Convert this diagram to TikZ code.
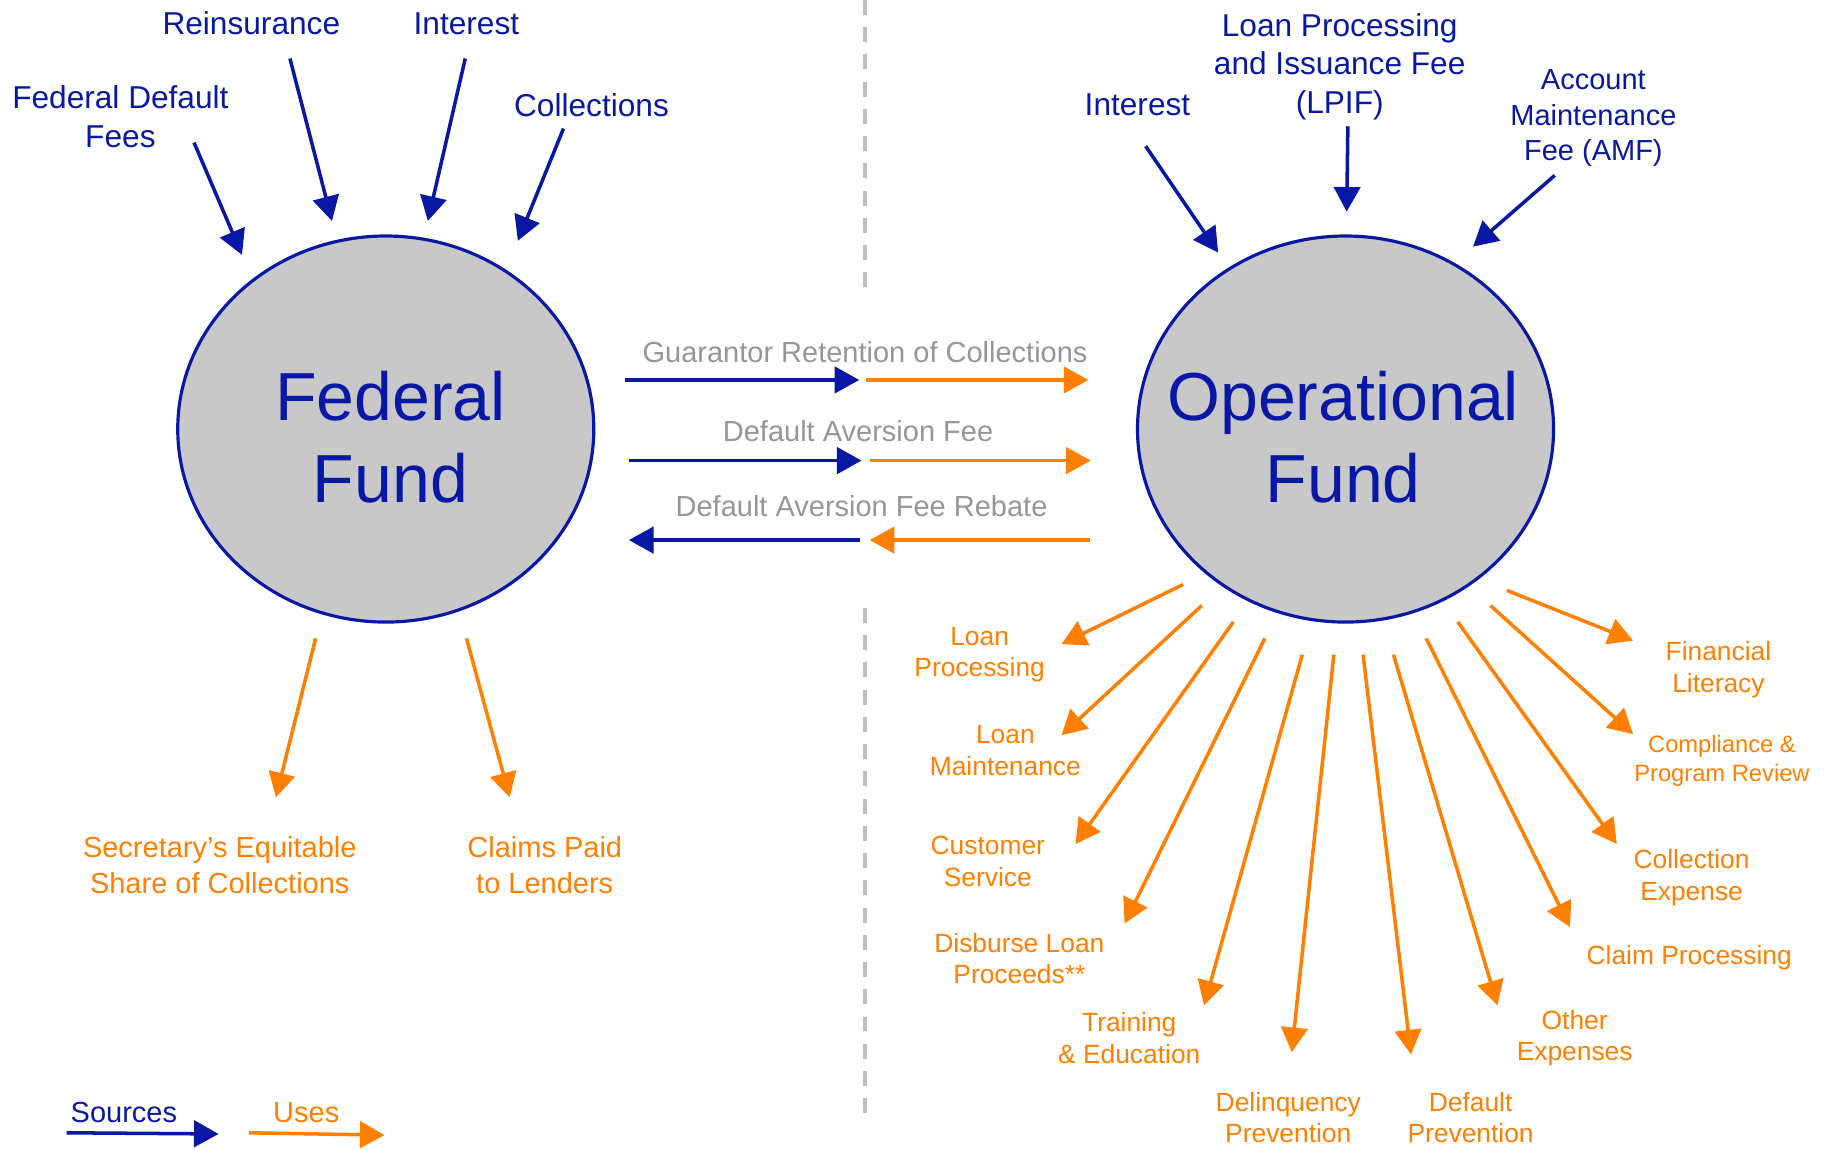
\documentclass[tikz,border=0pt]{standalone}
\usepackage{fontspec}
\setmainfont{Liberation Sans}
\usepackage{xcolor}
\usepackage{tikz}
\usetikzlibrary{shapes.geometric,arrows.meta}

\definecolor{srcblue}{RGB}{8,24,164}
\definecolor{useorange}{RGB}{255,128,0}
\definecolor{flowgray}{RGB}{150,150,150}
\definecolor{fundgray}{RGB}{200,200,200}
\definecolor{linegray}{RGB}{190,190,190}

\tikzset{
    src/.style={draw=srcblue, line width=2pt, -{Triangle[length=14pt,width=15pt]}},
    use/.style={draw=useorange, line width=2pt, -{Triangle[length=14pt,width=15pt]}},
    fund/.style={ellipse, draw=srcblue, line width=1.8pt, fill=fundgray, inner sep=0pt,
        minimum width=8.32cm, minimum height=7.72cm},
    fundlbl/.style={anchor=base, align=center, inner sep=0pt, text=srcblue,
        font=\fontsize{38.7}{46.5}\selectfont},
    srclbl/.style={text=srcblue, align=center, inner sep=0pt, font=\fontsize{18}{22}\selectfont},
    uselbl/.style={text=useorange, align=center, inner sep=0pt, font=\fontsize{15}{18}\selectfont},
    flowlbl/.style={text=flowgray, inner sep=0pt, font=\fontsize{16.5}{20}\selectfont},
    divider/.style={draw=linegray, line width=1.9pt, dash pattern=on 8.5pt off 7pt},
}

\begin{document}
\begin{tikzpicture}[x=0.02338cm, y=-0.02338cm]
    \useasboundingbox (0,0) rectangle (1568,983);

    % divider
    \draw[divider] (740,0) -- (740,253);
    \draw[divider] (740,520) -- (740,962);

    % the two funds
    \node[fund] (fed) at (330,367) {};
    \node[fund] (ops) at (1151,367) {};
    \node[fundlbl] (fedtxt) at (334,430) {Federal\\Fund};
    \node[fundlbl] (opstxt) at (1149,430) {Operational\\Fund};

    % sources of the federal fund
    \node[srclbl] (fdf) at (103,100) {Federal Default\\Fees};
    \node[srclbl] (rei) at (215,20) {Reinsurance};
    \node[srclbl] (fint) at (399,20) {Interest};
    \node[srclbl] (fcol) at (506,90) {Collections};
    \coordinate (fdf1) at (166,122); \coordinate (fdf2) at (207,218);
    \coordinate (rei1) at (248,50);  \coordinate (rei2) at (284,189);
    \coordinate (fint1) at (398,50); \coordinate (fint2) at (366,189);
    \coordinate (fcol1) at (482,110); \coordinate (fcol2) at (443,206);
    \draw[src] (fdf1) -- (fdf2);
    \draw[src] (rei1) -- (rei2);
    \draw[src] (fint1) -- (fint2);
    \draw[src] (fcol1) -- (fcol2);

    % sources of the operational fund
    \node[srclbl] (oint) at (973,90) {Interest};
    \node[srclbl] (lpif) at (1146,57) {Loan Processing\\and Issuance Fee\\(LPIF)};
    \node[srclbl, font=\fontsize{16.5}{20}\selectfont] (amf) at (1363,101) {Account\\Maintenance\\Fee (AMF)};
    \coordinate (oint1) at (980,125); \coordinate (oint2) at (1042,216);
    \coordinate (lpif1) at (1153,108); \coordinate (lpif2) at (1152,181);
    \coordinate (amf1) at (1330,150); \coordinate (amf2) at (1260,211);
    \draw[src] (oint1) -- (oint2);
    \draw[src] (lpif1) -- (lpif2);
    \draw[src] (amf1) -- (amf2);

    % flows between the funds
    \node[flowlbl] (grc) at (740,301) {Guarantor Retention of Collections};
    \node[flowlbl] (daf) at (734,369) {Default Aversion Fee};
    \node[flowlbl] (dafr) at (737,433) {Default Aversion Fee Rebate};
    \coordinate (grc1) at (535,325); \coordinate (grc2) at (735,325);
    \coordinate (grc3) at (741,325); \coordinate (grc4) at (931,325);
    \coordinate (daf1) at (538,394); \coordinate (daf2) at (737,394);
    \coordinate (daf3) at (744,394); \coordinate (daf4) at (933,394);
    \coordinate (dafr1) at (538,462); \coordinate (dafr2) at (736,462);
    \coordinate (dafr3) at (744,462); \coordinate (dafr4) at (932,462);
    \draw[src] (grc1) -- (grc2);
    \draw[use] (grc3) -- (grc4);
    \draw[src] (daf1) -- (daf2);
    \draw[use] (daf3) -- (daf4);
    \draw[src] (dafr2) -- (dafr1);
    \draw[use] (dafr4) -- (dafr3);

    % uses of the federal fund
    \node[uselbl, font=\fontsize{16.5}{20}\selectfont] (sec) at (188,740) {Secretary’s Equitable\\Share of Collections};
    \node[uselbl, font=\fontsize{16.5}{20}\selectfont] (clm) at (466,740) {Claims Paid\\to Lenders};
    \coordinate (sec1) at (270,546); \coordinate (sec2) at (236,682);
    \coordinate (clm1) at (399,546); \coordinate (clm2) at (436,682);
    \draw[use] (sec1) -- (sec2);
    \draw[use] (clm1) -- (clm2);

    % uses of the operational fund
    \node[uselbl] (lpr) at (838,560) {Loan\\Processing};
    \node[uselbl] (lmt) at (860,642) {Loan\\Maintenance};
    \node[uselbl] (csv) at (845,737) {Customer\\Service};
    \node[uselbl] (dlp) at (872,820) {Disburse Loan\\Proceeds**};
    \node[uselbl] (trn) at (966,888) {Training\\\& Education};
    \node[uselbl] (dlq) at (1102,956) {Delinquency\\Prevention};
    \node[uselbl] (dfp) at (1258,956) {Default\\Prevention};
    \node[uselbl] (oex) at (1347,888) {Other\\Expenses};
    \node[uselbl] (cpr) at (1445,819) {Claim Processing};
    \node[uselbl] (cex) at (1447,751) {Collection\\Expense};
    \node[uselbl, font=\fontsize{13.5}{16.5}\selectfont] (cmp) at (1473,651) {Compliance \&\\Program Review};
    \node[uselbl] (fin) at (1470,573) {Financial\\Literacy};
    \coordinate (lpr1) at (1012,500); \coordinate (lpr2) at (908,551);
    \coordinate (lmt1) at (1028,518); \coordinate (lmt2) at (908,629);
    \coordinate (csv1) at (1055,532); \coordinate (csv2) at (920,722);
    \coordinate (dlp1) at (1082,546); \coordinate (dlp2) at (962,790);
    \coordinate (trn1) at (1114,560); \coordinate (trn2) at (1030,860);
    \coordinate (dlq1) at (1141,560); \coordinate (dlq2) at (1105,900);
    \coordinate (dfp1) at (1166,560); \coordinate (dfp2) at (1207,902);
    \coordinate (oex1) at (1192,560); \coordinate (oex2) at (1281,860);
    \coordinate (cpr1) at (1220,546); \coordinate (cpr2) at (1343,793);
    \coordinate (cex1) at (1247,532); \coordinate (cex2) at (1383,722);
    \coordinate (cmp1) at (1275,518); \coordinate (cmp2) at (1397,628);
    \coordinate (fin1) at (1289,505); \coordinate (fin2) at (1397,548);
    \draw[use] (lpr1) -- (lpr2);
    \draw[use] (lmt1) -- (lmt2);
    \draw[use] (csv1) -- (csv2);
    \draw[use] (dlp1) -- (dlp2);
    \draw[use] (trn1) -- (trn2);
    \draw[use] (dlq1) -- (dlq2);
    \draw[use] (dfp1) -- (dfp2);
    \draw[use] (oex1) -- (oex2);
    \draw[use] (cpr1) -- (cpr2);
    \draw[use] (cex1) -- (cex2);
    \draw[use] (cmp1) -- (cmp2);
    \draw[use] (fin1) -- (fin2);

    % legend
    \node[srclbl, font=\fontsize{16.5}{20}\selectfont] (srckey) at (106,952) {Sources};
    \node[uselbl, font=\fontsize{16.5}{20}\selectfont] (usekey) at (262,952) {Uses};
    \coordinate (srckey1) at (57,969); \coordinate (srckey2) at (187,970);
    \coordinate (usekey1) at (213,969); \coordinate (usekey2) at (329,971);
    \draw[src] (srckey1) -- (srckey2);
    \draw[use] (usekey1) -- (usekey2);
\end{tikzpicture}
\end{document}
